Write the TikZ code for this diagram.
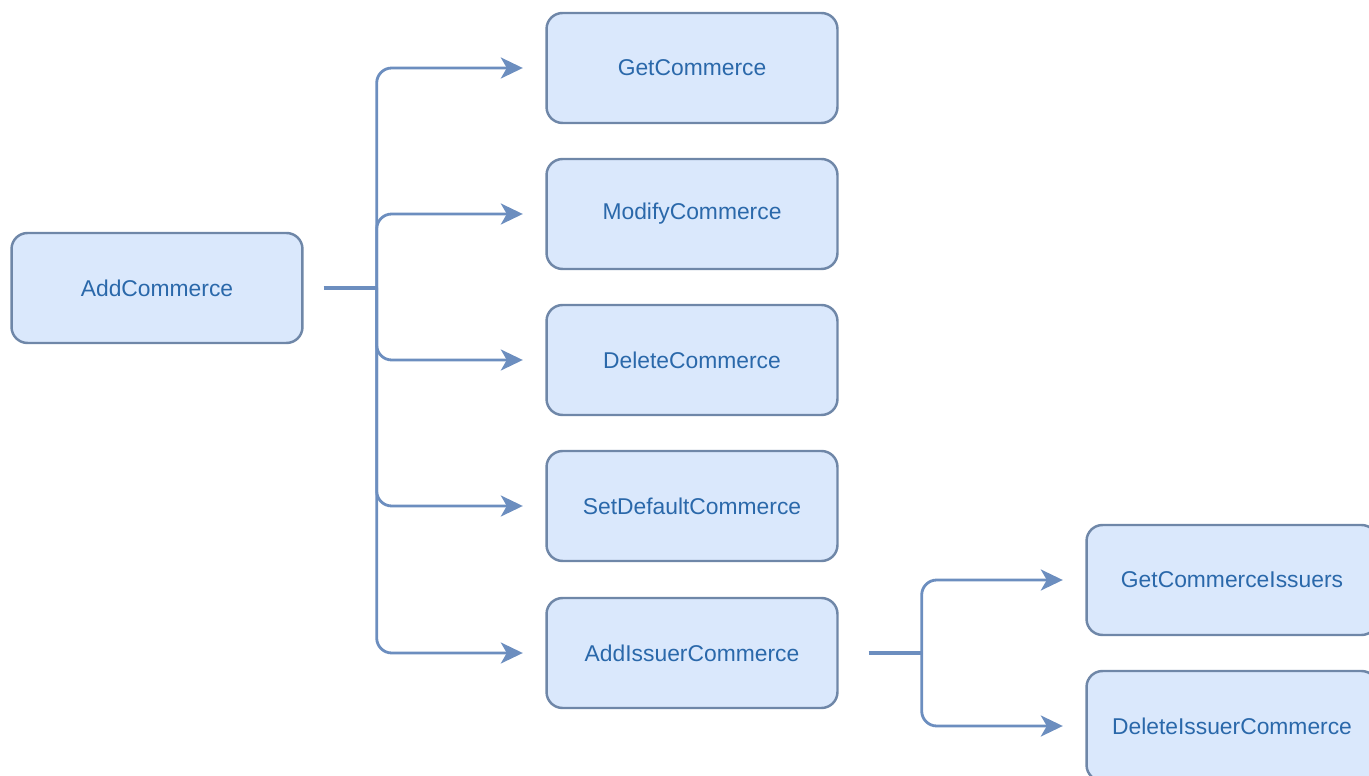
\documentclass[tikz,border=0pt]{standalone}
\usepackage{fontspec}
\setmainfont{Liberation Sans}
\usetikzlibrary{arrows.meta}
\definecolor{boxfill}{HTML}{DAE8FC}
\definecolor{boxline}{HTML}{6F87A8}
\definecolor{linkline}{HTML}{6C8EBF}
\definecolor{boxtext}{HTML}{2A68AA}
\tikzset{
    box/.style={draw=boxline, line width=1.4pt, fill=boxfill, rounded corners=0.32cm,
        minimum width=5.82cm, minimum height=2.2cm, text=boxtext,
        font=\fontsize{13}{15}\selectfont},
    stub/.style={draw=linkline, line width=1.6pt},
    link/.style={stub, rounded corners=0.3cm, shorten >=0.45cm,
        -{Stealth[length=0.44cm, width=0.42cm, inset=0.12cm]}}
}
\begin{document}
\begin{tikzpicture}[x=0.02cm, y=-0.02cm]
            \useasboundingbox (0,0) rectangle (1369,776);
            \node[box] (add) at (157,288) {AddCommerce};
            \begin{scope}
                \path (692,68) node[box] (get) {GetCommerce}
                    ++(0,146) node[box] (mod) {ModifyCommerce}
                    ++(0,146) node[box] (del) {DeleteCommerce}
                    ++(0,146) node[box] (set) {SetDefaultCommerce}
                    ++(0,147) node[box] (iss) {AddIssuerCommerce};
            \end{scope}
            \begin{scope}
                \path (1232,580) node[box] (gci) {GetCommerceIssuers}
                    ++(0,146) node[box] (dic) {DeleteIssuerCommerce};
            \end{scope}
            \coordinate (fork1) at ([xshift=1.46cm]add.east);
            \coordinate (fork2) at ([xshift=1.66cm]iss.east);
            \draw[stub, line width=1.75pt, shorten <=0.4cm] (add.east) -- (fork1);
            \draw[stub, line width=1.75pt, shorten <=0.6cm] (iss.east) -- (fork2);
            \foreach \n in {get,mod,del,set,iss}
                \draw[link] (fork1) |- (\n.west);
            \foreach \n in {gci,dic}
                \draw[link] (fork2) |- (\n.west);
        \end{tikzpicture}
\end{document}
